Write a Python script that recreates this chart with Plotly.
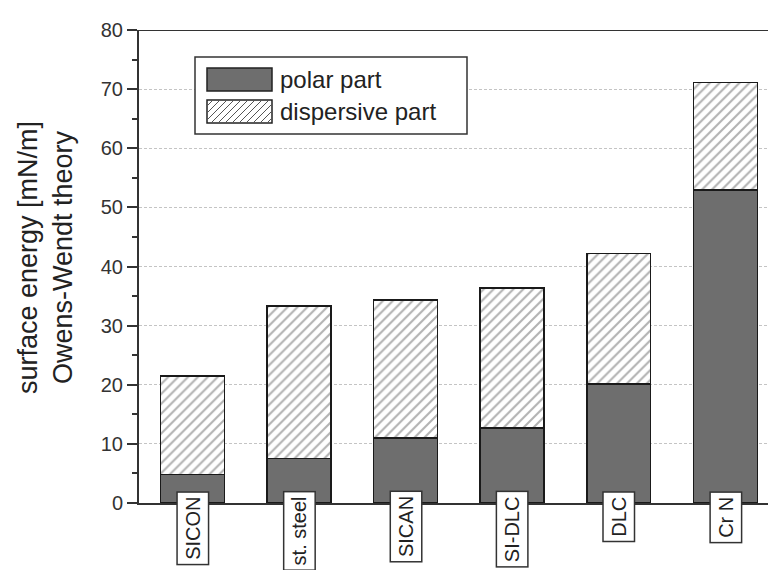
import plotly.graph_objects as go

categories = ["SICON", "st. steel", "SICAN", "SI-DLC", "DLC", "Cr N"]
polar = [4.8, 7.5, 11.0, 12.7, 20.1, 52.9]
dispersive = [16.7, 25.8, 23.3, 23.7, 22.1, 18.2]
y_ticks = [0, 10, 20, 30, 40, 50, 60, 70, 80]

FONT = "Liberation Sans, Arial, sans-serif"
W, H = 768, 570
L, R, T, B = 139, 0, 30, 67
PW, PH = W - L - R, H - T - B


def px2paper(px, py):
    return (px - L) / PW, (H - B - py) / PH


xs = list(range(len(categories)))

fig = go.Figure()
fig.add_trace(go.Bar(
    x=xs, y=polar, name="polar part", width=0.6,
    marker=dict(color="#6e6e6e", line=dict(color="#1a1a1a", width=1.5)),
    showlegend=False,
))
fig.add_trace(go.Bar(
    x=xs, y=dispersive, name="dispersive part", width=0.6,
    marker=dict(color="white", line=dict(color="#1a1a1a", width=1.5),
                pattern=dict(shape="/", fgcolor="#666666", bgcolor="white",
                             size=7, solidity=0.3)),
    showlegend=False,
))

shapes = []
annotations = []

# top frame line
shapes.append(dict(type="line", xref="paper", yref="y", x0=0, x1=1, y0=80, y1=80,
                   line=dict(color="#333", width=2)))

# manual legend
def rect(px0, py0, px1, py1, **kw):
    x0, y0 = px2paper(px0, py1)
    x1, y1 = px2paper(px1, py0)
    d = dict(type="rect", xref="paper", yref="paper", x0=x0, x1=x1, y0=y0, y1=y1)
    d.update(kw)
    return d

shapes.append(rect(195, 57, 467, 134, line=dict(color="#333", width=1.5), fillcolor="white", layer="above"))
shapes.append(rect(207, 68, 272, 91, line=dict(color="#222", width=1.5), fillcolor="#6e6e6e", layer="above"))
shapes.append(rect(207, 100, 272, 123, line=dict(color="#222", width=1.5), fillcolor="white", layer="above"))
# hatch for legend swatch
hx0, hy0, hx1, hy1 = 207, 100, 272, 123
c = hx0 + hy0 + 6
while c < hx1 + hy1:
    xa = max(hx0, c - hy1)
    xb = min(hx1, c - hy0)
    if xb > xa:
        p0 = px2paper(xa, c - xa)
        p1 = px2paper(xb, c - xb)
        shapes.append(dict(type="line", xref="paper", yref="paper",
                           x0=p0[0], y0=p0[1], x1=p1[0], y1=p1[1],
                           line=dict(color="#555", width=1), layer="above"))
    c += 7

for label, py in [("polar part", 80), ("dispersive part", 111)]:
    ax, ay = px2paper(278, py)
    annotations.append(dict(text=label, xref="paper", yref="paper", x=ax, y=ay,
                            xanchor="left", yanchor="middle", showarrow=False,
                            font=dict(family=FONT, size=24, color="#222")))

# category labels in boxes
for i, cat in enumerate(categories):
    annotations.append(dict(text=cat, x=i, y=0, xref="x", yref="y", textangle=-90,
                            xanchor="center", yanchor="top", yshift=12, showarrow=False,
                            bgcolor="white", bordercolor="#333", borderwidth=1.5, borderpad=4,
                            font=dict(family=FONT, size=20, color="#222")))

# y axis title
tx, ty = px2paper(45, 258)
annotations.append(dict(text="surface energy [mN/m]<br>Owens-Wendt theory",
                        xref="paper", yref="paper", x=tx, y=ty, textangle=-90,
                        xanchor="center", yanchor="middle", showarrow=False,
                        font=dict(family=FONT, size=27, color="#222")))

fig.update_layout(
    width=W, height=H,
    margin=dict(l=L, r=R, t=T, b=B, autoexpand=False),
    barmode="stack",
    plot_bgcolor="white", paper_bgcolor="white",
    shapes=shapes, annotations=annotations,
    font=dict(family=FONT, color="#222"),
    xaxis=dict(range=[-0.5, 5.40], showgrid=False, zeroline=False, showline=True,
               linecolor="#333", linewidth=2, showticklabels=False, ticks=""),
    yaxis=dict(range=[0, 80], tickvals=y_ticks, showgrid=True, gridcolor="#c4c4c4",
               griddash="3px,2px", gridwidth=1, zeroline=False, showline=True,
               linecolor="#333", linewidth=2, ticks="outside", ticklen=10,
               tickwidth=2, tickcolor="#333",
               tickfont=dict(family=FONT, size=20, color="#333"),
               minor=dict(dtick=5, ticks="outside", ticklen=5, tickwidth=2,
                          tickcolor="#333", showgrid=False)),
)

fig.write_html("out.html")
